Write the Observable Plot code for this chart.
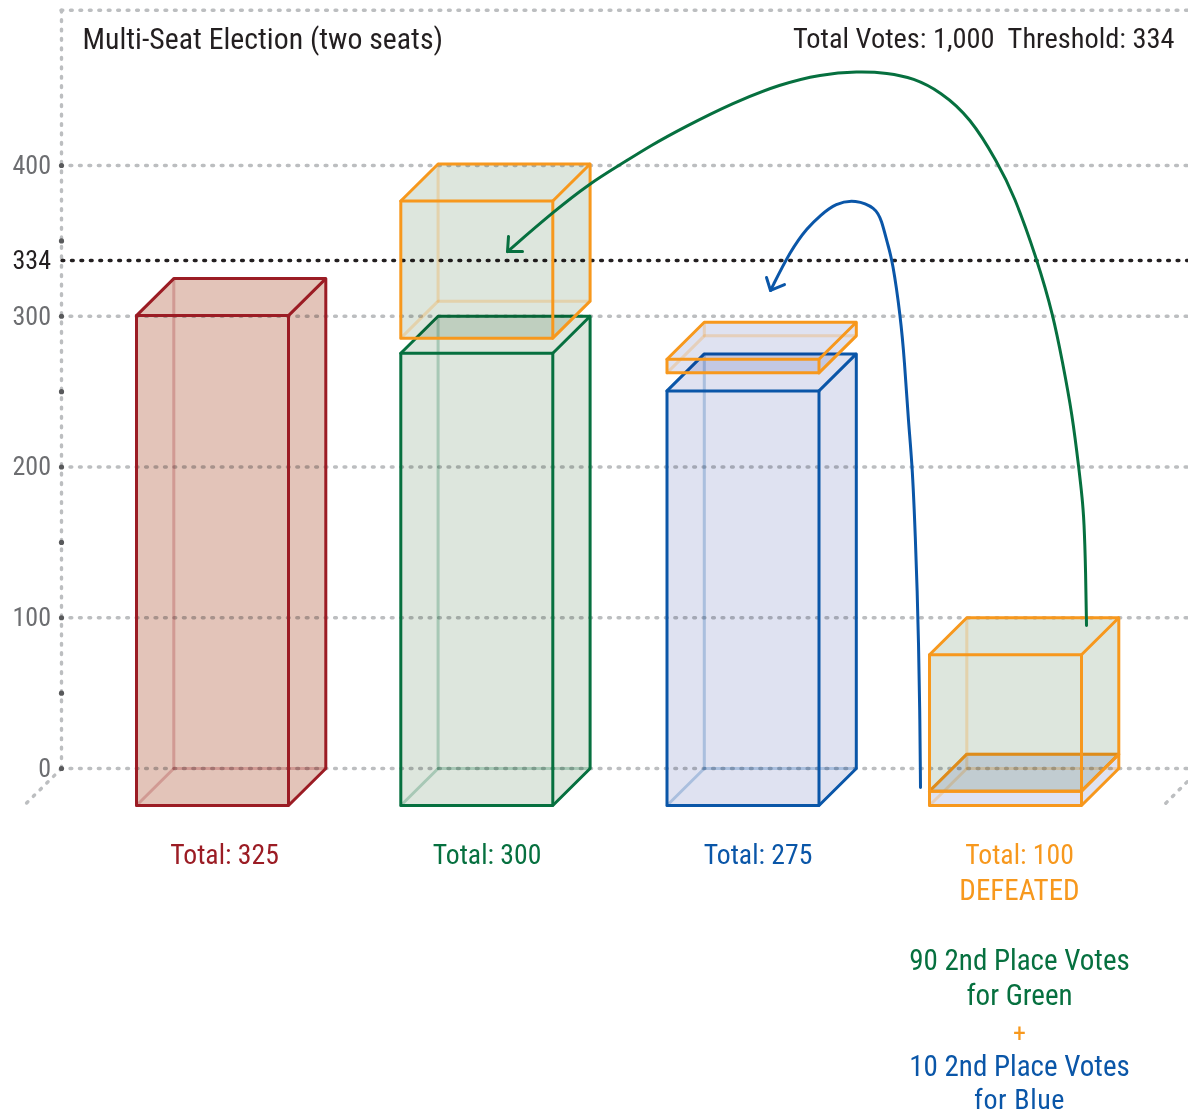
<!DOCTYPE html>
<html><head><meta charset="utf-8">
<script src="https://cdn.jsdelivr.net/npm/d3@7"></script>
<script src="https://cdn.jsdelivr.net/npm/@observablehq/plot@0.6"></script>
<style>html,body{margin:0;padding:0;background:#fff}svg{display:block;background:#fff}</style>
</head><body><div id="chart"></div>
<script>
// ---- data (votes) ----
const categories = ["Red","Green","Blue","Orange"];
const totals = [325,300,275,100];
const boxColumn = ["Red","Green","Green","Blue","Blue","Orange","Orange"];
const boxBase   = [0,0,310,0,287,0,9.5];
const boxTop    = [325,300,401,275,296,9.5,100];
const boxFill   = ["Red","Green","Green","Blue","Blue","Blue","Green"];
const boxEdge   = ["Red","Green","Orange","Blue","Orange","Orange","Orange"];
const gridValues = [0,100,200,300,400];
const axisDots = [0,50,100,150,200,250,300,350,400];
const tickValues = [400,337,300,200,100,0];
const tickLabels = ["400","334","300","200","100","0"];
const thresholdDrawn = 337;
const frameTop = 503;
const greenArrowX = [1086,1085.2,1083.6,1081.6,1079,1071.7,1061.7,1053,1037,1013,997,970,940,913,887,857,820,780,733,683,650,620,589,552,507];
const greenArrowV = [94.9,130,164.5,180,195.7,235.5,270.6,299.8,337,381.4,402,431.8,449,458,461.5,462.5,460.5,454,441.8,425.2,413.2,400.6,388,368.8,342.9];
const greenHeadX = [508,507,522];
const greenHeadV = [352.9,342.9,342.9];
const blueArrowX = [920,919.3,918,916.7,915,912,908,904,900,892,887,881,875,855,835,820,807,790,770];
const blueArrowV = [-12.6,40,84.9,118,151.2,199.7,228.8,270.6,299.8,337,348,364,372,377.5,375,367,358.9,343.6,317.1];
const blueHeadX = [766,770,784];
const blueHeadV = [325.7,317.1,321];
const captionText = ["Total: 325","Total: 300","Total: 275","Total: 100","DEFEATED","90 2nd Place Votes","for Green","+","10 2nd Place Votes","for Blue"];
const captionColor = ["Red","Green","Blue","Orange","Orange","Green","Green","Orange","Blue","Blue"];
const titleLeft = "Multi-Seat Election (two seats)";
const titleRight = "Total Votes: 1,000\u00a0\u00a0Threshold: 334";

// ---- layout and style ----
const W = 1188, H = 1115;
const zeroY = 768, pxPerVote = 1.5075;
const slotLeft = {Red:136, Green:400.3, Blue:666.5, Orange:929};
const boxW = 152, depthX = 37.3, depthV = 37/pxPerVote;
const axisX = 61;
const captionX = [224,486.5,757.5,1019,1019,1019,1019,1019,1019,1019];
const captionDy = [87,87,87,87,122,192,227,265,298,332];
const captionSize = [27.7,27.7,27.7,27.7,29,29,29,26,29,28];
const edgeColor = {Red:"#9b1c24",Green:"#06703f",Blue:"#0a56a8",Orange:"#f7981d"};
const fillColor = {Red:"#e3c4b9",Green:"#dde6dd",Blue:"#dfe2f1"};
const FONT = "'Liberation Sans Narrow','Roboto Condensed','Liberation Sans',sans-serif";
const dots = {strokeWidth:3.4, strokeDasharray:"1.8 7.65", strokeLinecap:"round"};
const EDGE = 3;

const marks = [];
// frame + grid
marks.push(Plot.ruleY(gridValues,{x1:axisX+9,x2:W,stroke:"#bcbec0",...dots}));
marks.push(Plot.ruleY([frameTop],{x1:axisX,x2:W,stroke:"#bcbec0",...dots}));
marks.push(Plot.ruleX([axisX],{y1:0,y2:frameTop,stroke:"#bcbec0",...dots}));
marks.push(Plot.line([[axisX,0],[axisX-39,-depthV-1]],{x:d=>d[0],y:d=>d[1],stroke:"#bcbec0",...dots}));
marks.push(Plot.line([[W+12,0],[W-25,-depthV]],{x:d=>d[0],y:d=>d[1],stroke:"#bcbec0",...dots}));
marks.push(Plot.ruleY([thresholdDrawn],{x1:axisX+1,x2:W,stroke:"#231f20",...dots}));
marks.push(Plot.dot(axisDots,{x:()=>axisX,y:d=>d,r:2.6,fill:"#58595b"}));

// boxes
boxColumn.forEach((col,i)=>{
  const L=slotLeft[col], R=L+boxW, b=boxBase[i]-depthV, t=boxTop[i]-depthV, B=boxBase[i], T=boxTop[i];
  const fl=[L,b], fr=[R,b], ftl=[L,t], ftr=[R,t];
  const bbl=[L+depthX,B], bbr=[R+depthX,B], btl=[L+depthX,T], btr=[R+depthX,T];
  const line=(pts,o)=>Plot.line(pts,{x:d=>d[0],y:d=>d[1],curve:"linear",...o});
  marks.push(line([fl,ftl,btl,btr,bbr,fr,fl],{fill:fillColor[boxFill[i]],stroke:"none",mixBlendMode:"multiply"}));
  marks.push(line([fl,bbl,btl],{stroke:edgeColor[boxEdge[i]],strokeWidth:EDGE,strokeOpacity:.25}));
  marks.push(line([bbl,bbr],{stroke:edgeColor[boxEdge[i]],strokeWidth:EDGE,strokeOpacity:.25}));
  const s={stroke:edgeColor[boxEdge[i]],strokeWidth:EDGE,strokeLinejoin:"miter"};
  marks.push(line([fl,ftl,ftr,fr,fl,ftl],s));
  marks.push(line([ftl,btl,btr,ftr],s));
  marks.push(line([btr,bbr,fr],s));
});

// arrows
const path=(X,V,o)=>Plot.line(X.map((x,i)=>[x,V[i]]),{x:d=>d[0],y:d=>d[1],strokeWidth:EDGE,...o});
marks.push(path(blueArrowX,blueArrowV,{stroke:edgeColor.Blue,curve:"basis"}));
marks.push(path(blueHeadX,blueHeadV,{stroke:edgeColor.Blue,curve:"linear"}));
marks.push(path(greenArrowX,greenArrowV,{stroke:edgeColor.Green,curve:"basis"}));
marks.push(path(greenHeadX,greenHeadV,{stroke:edgeColor.Green,curve:"linear"}));

// texts
const txt={fontFamily:FONT,lineAnchor:"middle"};
tickValues.forEach((v,i)=>marks.push(Plot.text([tickLabels[i]],{x:()=>50.5,y:()=>v,text:d=>d,textAnchor:"end",fontSize:26,fill:i==1?"#231f20":"#6d6e71",...txt})));
marks.push(Plot.text([titleLeft],{x:()=>82,y:()=>frameTop,dy:29,text:d=>d,textAnchor:"start",fontSize:29.8,fill:"#231f20",...txt}));
marks.push(Plot.text([titleRight],{x:()=>1174,y:()=>frameTop,dy:29,text:d=>d,textAnchor:"end",fontSize:28.4,fill:"#231f20",...txt}));
captionText.forEach((t,i)=>marks.push(Plot.text([t],{x:()=>captionX[i],y:()=>0,dy:captionDy[i],text:d=>d,textAnchor:"middle",fontSize:captionSize[i],fill:edgeColor[captionColor[i]],...txt})));

const chart = Plot.plot({
  width:W,height:H,marginTop:0,marginBottom:0,marginLeft:0,marginRight:0,
  x:{domain:[0,W],range:[0,W],axis:null},
  y:{domain:[zeroY/pxPerVote,-(H-zeroY)/pxPerVote],range:[0,H],axis:null},
  style:{background:"#fff",overflow:"hidden"},
  marks
});
chart.querySelectorAll("text").forEach(t=>{ if(t.textContent==="for Blue") t.style.letterSpacing="0.6px"; });
document.getElementById("chart").append(chart);
</script></body></html>
